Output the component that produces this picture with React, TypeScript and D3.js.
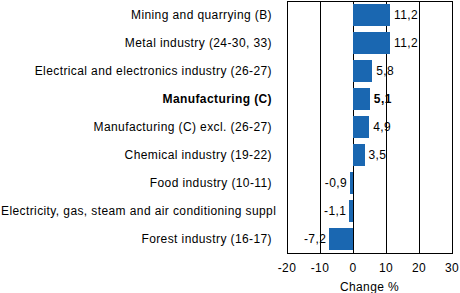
import React from "react";
import * as d3 from "d3";

const categories = [
  "Mining and quarrying (B)",
  "Metal industry (24-30, 33)",
  "Electrical and electronics industry (26-27)",
  "Manufacturing (C)",
  "Manufacturing (C) excl. (26-27)",
  "Chemical industry (19-22)",
  "Food industry (10-11)",
  "Electricity, gas, steam and air conditioning suppl",
  "Forest industry (16-17)",
];
const values = [11.2, 11.2, 5.8, 5.1, 4.9, 3.5, -0.9, -1.1, -7.2];
const labels = ["11,2", "11,2", "5,8", "5,1", "4,9", "3,5", "-0,9", "-1,1", "-7,2"];
const boldIdx = [3];
const ticks = [-20, -10, 0, 10, 20, 30];
const axisTitle = "Change %";

export default function App() {
  const W = 460, H = 293;
  const left = 287, right = 452, top = 1, bottom = 253;
  const x = d3.scaleLinear().domain([-20, 30]).range([left, right]);
  const y = d3.scaleBand<number>().domain(d3.range(categories.length)).range([top, bottom]).paddingInner(0.2).paddingOuter(0.1);
  const font = "'Liberation Sans', Arial, sans-serif";
  const fs = 12;
  const ls = 0.4;
  return (
    <svg width={W} height={H} style={{ position: "absolute", left: 0, top: 0 }} fontFamily={font}>
      <rect x={0} y={0} width={W} height={H} fill="#fff" />
      {ticks.slice(1, -1).map((t) => (
        <line key={t} x1={x(t)} x2={x(t)} y1={top} y2={bottom} stroke="#000" strokeWidth={1} shapeRendering="crispEdges" />
      ))}
      {values.map((v, i) => {
        const x0 = x(Math.min(0, v));
        const x1 = x(Math.max(0, v));
        const cy = y(i)! + y.bandwidth() / 2;
        const bold = boldIdx.includes(i);
        return (
          <g key={i}>
            <rect x={x0} y={y(i)} width={x1 - x0} height={y.bandwidth()} fill="#1a67b1" shapeRendering="crispEdges" />
            <text
              x={v >= 0 ? x1 + 4 : x0 - 3}
              y={cy}
              dy="0.35em"
              fontSize={fs}
              letterSpacing={ls}
              fontWeight={bold ? "bold" : "normal"}
              textAnchor={v >= 0 ? "start" : "end"}
              fill="#000"
            >
              {labels[i]}
            </text>
            {categories[i].length > 45 ? (
              <text x={1} y={cy} dy="0.35em" fontSize={fs} letterSpacing={ls} textAnchor="start" fill="#000">
                {categories[i]}
              </text>
            ) : (
              <text x={272} y={cy} dy="0.35em" fontSize={fs} letterSpacing={ls} fontWeight={bold ? "bold" : "normal"} textAnchor="end" fill="#000">
                {categories[i]}
              </text>
            )}
          </g>
        );
      })}
      <rect x={left} y={top} width={right - left} height={bottom - top} fill="none" stroke="#000" strokeWidth={1} shapeRendering="crispEdges" />
      {ticks.map((t) => (
        <text key={t} x={x(t)} y={268} dy="0.35em" fontSize={fs} letterSpacing={ls} textAnchor="middle" fill="#000">
          {t}
        </text>
      ))}
      <text x={(left + right) / 2} y={287} dy="0.35em" fontSize={fs} letterSpacing={ls} textAnchor="middle" fill="#000">
        {axisTitle}
      </text>
    </svg>
  );
}
